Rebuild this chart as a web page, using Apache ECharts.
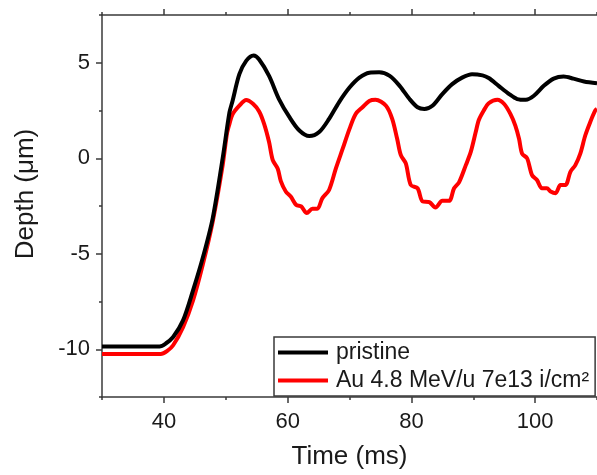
<!DOCTYPE html>
<html>
<head>
<meta charset="utf-8">
<script src="https://cdn.jsdelivr.net/npm/echarts@6/dist/echarts.min.js"></script>
<style>
html,body{margin:0;padding:0;background:#fff;}
#chart{width:597px;height:475px;}
</style>
</head>
<body>
<div id="chart"></div>
<script>
// Data
var seriesNames = ['pristine', 'Au 4.8 MeV/u 7e13 i/cm²'];
var xTitle = 'Time (ms)';
var yTitle = 'Depth (μm)';

var pristineTime = [30, 39.3, 40.3, 41.5, 43.1, 44.7, 46.3, 47.9, 49.5, 50.6, 51.1, 52.2, 53.3, 54.5, 55.4, 57.0, 58.6, 60.3, 61.9, 63.5, 65.1, 66.7, 68.3, 70.0, 71.6, 73.2, 74.8, 76.5, 78.1, 79.7, 81.0, 82.1, 83.4, 85.0, 86.6, 88.2, 89.8, 91.5, 92.5, 94.1, 95.8, 97.1, 98.5, 99.8, 101.4, 103.0, 104.6, 106.2, 107.9, 110];
var pristineDepth = [-9.85, -9.85, -9.7, -9.36, -8.49, -6.93, -5.2, -3.13, 0.0, 2.4, 3.0, 4.4, 5.1, 5.38, 5.17, 4.31, 3.1, 2.15, 1.45, 1.16, 1.37, 2.06, 2.93, 3.7, 4.22, 4.48, 4.5, 4.31, 3.79, 3.1, 2.67, 2.58, 2.75, 3.36, 3.88, 4.22, 4.4, 4.34, 4.2, 3.79, 3.36, 3.1, 3.06, 3.27, 3.79, 4.17, 4.28, 4.17, 4.02, 3.93];

var irradTime = [30, 39.5, 40.5, 41.5, 43.1, 44.7, 46.3, 47.9, 49.5, 50.2, 50.6, 51.1, 52.2, 53.3, 54.4, 55.4, 56.2, 57.0, 57.6, 58.4, 58.9, 59.7, 60.5, 61.4, 62.2, 63.1, 64.0, 64.8, 65.6, 66.7, 67.8, 68.9, 70.0, 71.0, 72.1, 73.2, 74.2, 75.9, 76.9, 77.7, 78.3, 79.1, 79.9, 81.0, 81.8, 82.9, 83.9, 85.0, 86.1, 86.9, 87.7, 88.8, 89.6, 90.4, 90.9, 91.7, 92.5, 93.9, 95.0, 96.0, 96.8, 97.4, 97.9, 98.7, 99.5, 100.3, 101.1, 101.9, 102.5, 103.3, 104.1, 104.9, 105.7, 106.5, 107.3, 108.1, 108.9, 109.7, 110];
var irradDepth = [-10.25, -10.25, -10.1, -9.79, -8.84, -7.45, -5.55, -3.3, -0.36, 1.3, 1.8, 2.3, 2.75, 3.05, 2.85, 2.45, 1.8, 0.85, -0.1, -0.55, -1.2, -1.74, -2.0, -2.45, -2.52, -2.87, -2.65, -2.65, -2.1, -1.66, -0.53, 0.5, 1.54, 2.32, 2.67, 3.0, 3.06, 2.75, 2.06, 1.02, 0.16, -0.27, -1.4, -1.57, -2.26, -2.3, -2.58, -2.23, -2.23, -1.57, -1.26, -0.36, 0.33, 1.37, 2.0, 2.5, 2.88, 3.06, 2.84, 2.32, 1.71, 1.02, 0.24, 0.0, -0.88, -1.14, -1.57, -1.57, -1.74, -1.83, -1.4, -1.4, -0.71, -0.36, 0.24, 1.19, 1.89, 2.49, 2.58];

var xMajorTicks = [40, 60, 80, 100];
var xMinorTicks = [30, 50, 70, 90, 110];
var yMajorTicks = [-10, -5, 0, 5];
var yMinorTicks = [-12.5, -7.5, -2.5, 2.5, 7.5];

function pairs(xs, ys) {
  var out = [];
  for (var i = 0; i < xs.length; i++) out.push([xs[i], ys[i]]);
  return out;
}

var FONT = '"Liberation Sans", Arial, sans-serif';
var AX = {color: '#3a3a3a', width: 1.5};

function xAx(pos, ticks, len, showLine, withLabels) {
  var a = {
    type: 'value', position: pos, min: 30, max: 110, interval: 10,
    axisLine: {show: showLine, onZero: false, lineStyle: AX},
    axisTick: {show: true, inside: false, length: len, customValues: ticks, lineStyle: AX},
    axisLabel: {show: false},
    splitLine: {show: false}
  };
  if (withLabels) {
    a.axisLabel = {show: true, customValues: ticks, fontSize: 22, fontFamily: FONT, color: '#1a1a1a', margin: 14};
    a.name = xTitle;
    a.nameLocation = 'middle';
    a.nameGap = 47;
    a.nameTextStyle = {fontSize: 26, fontFamily: FONT, color: '#1a1a1a'};
  }
  return a;
}
function yAx(ticks, len, showLine, withLabels) {
  var a = {
    type: 'value', position: 'left', min: -12.5, max: 7.5, interval: 2.5,
    axisLine: {show: showLine, onZero: false, lineStyle: AX},
    axisTick: {show: true, inside: false, length: len, customValues: ticks, lineStyle: AX},
    axisLabel: {show: false},
    splitLine: {show: false}
  };
  if (withLabels) {
    a.axisLabel = {show: true, customValues: ticks, fontSize: 22, fontFamily: FONT, color: '#1a1a1a', margin: 12};
  }
  return a;
}

var chart = echarts.init(document.getElementById('chart'), null, {renderer: 'canvas'});
chart.setOption({
  animation: false,
  backgroundColor: '#ffffff',
  grid: {left: 102, right: -1, top: 15, bottom: 74, containLabel: false},
  graphic: [{
    type: 'text', x: 26, y: 194, rotation: Math.PI / 2,
    style: {text: yTitle, fontSize: 26, fontFamily: FONT, fill: '#1a1a1a', textAlign: 'center', textVerticalAlign: 'middle'}
  }],
  xAxis: [
    xAx('bottom', xMajorTicks, 6, true, true),
    xAx('bottom', xMinorTicks, 3, false, false),
    xAx('top', xMajorTicks, 6, true, false),
    xAx('top', xMinorTicks, 3, false, false)
  ],
  yAxis: [
    yAx(yMajorTicks, 6, true, true),
    yAx(yMinorTicks, 3, false, false)
  ],
  legend: {
    orient: 'vertical', align: 'left',
    left: 274, top: 337,
    padding: [4, 6, 4, 4],
    itemGap: 5,
    itemWidth: 50, itemHeight: 4,
    icon: 'rect',
    backgroundColor: '#ffffff',
    borderColor: '#3a3a3a', borderWidth: 1.5,
    textStyle: {fontSize: 23, fontFamily: FONT, color: '#1a1a1a', padding: [0, 0, 0, 3]},
    data: seriesNames
  },
  series: [
    {
      name: seriesNames[0], type: 'line', xAxisIndex: 0, yAxisIndex: 0,
      data: pairs(pristineTime, pristineDepth),
      smooth: 0.3, showSymbol: false, symbol: 'none',
      lineStyle: {color: '#000000', width: 4},
      itemStyle: {color: '#000000'},
      z: 3
    },
    {
      name: seriesNames[1], type: 'line', xAxisIndex: 0, yAxisIndex: 0,
      data: pairs(irradTime, irradDepth),
      smooth: 0.3, showSymbol: false, symbol: 'none',
      lineStyle: {color: '#ff0000', width: 4},
      itemStyle: {color: '#ff0000'},
      z: 2
    }
  ]
});
</script>
</body>
</html>
